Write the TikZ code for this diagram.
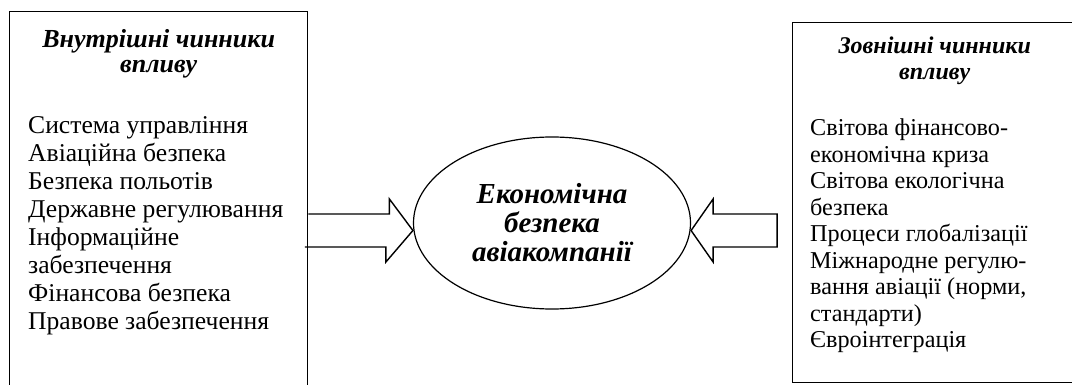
\documentclass[tikz,border=0pt]{standalone}
\usepackage{fontspec}
\setmainfont{Liberation Serif}
\usetikzlibrary{positioning,shapes.geometric,calc}

\tikzset{
  factorbox/.style={draw, line width=1.4pt, anchor=north west, inner sep=0pt},
  boxtitle/.style={inner sep=0pt, anchor=north, align=center},
  factorlist/.style={inner sep=0pt, anchor=north west, align=left},
  goal/.style={ellipse, draw, line width=1.2pt, minimum width=277pt,
    minimum height=172pt, align=center,
    font=\fontsize{29}{29}\selectfont\bfseries\itshape},
  blockarrow/.style={draw, line width=1.4pt, line join=miter}
}

\begin{document}
\begin{tikzpicture}[x=1pt,y=-1pt]
  \useasboundingbox (0,0) rectangle (1072,385);

  % boxes
  \node[factorbox, minimum width=298pt, minimum height=430pt] (inner) at (9,11) {};
  \node[factorbox, minimum width=284pt, minimum height=360pt] (outer) at (792,22) {};

  \node[boxtitle, below=18pt of inner.north,
    font=\fontsize{26}{25.5}\selectfont\bfseries\itshape] (innertitle)
    {Внутрішні чинники\\впливу};
  \node[factorlist, below right=105pt and 19pt of inner.north west,
    font=\fontsize{25.6}{28}\selectfont] (innerlist)
    {Система управління\\Авіаційна безпека\\Безпека польотів\\
     Державне регулювання\\Інформаційне\\забезпечення\\
     Фінансова безпека\\Правове забезпечення};

  \node[boxtitle, below=15pt of outer.north,
    font=\fontsize{24}{25.5}\selectfont\bfseries\itshape] (outertitle)
    {Зовнішні чинники\\впливу};
  \node[factorlist, below right=97pt and 18pt of outer.north west,
    font=\fontsize{24.2}{26.5}\selectfont] (outerlist)
    {Світова фінансово-\\економічна криза\\Світова екологічна\\безпека\\
     Процеси глобалізації\\Міжнародне регулю-\\вання авіації (норми,\\
     стандарти)\\Євроінтеграція};

  % centre
  \node[goal] (goal) at (552,223) {Економічна\\безпека\\авіакомпанії};
  \coordinate (axis) at (552,230.5);

  % arrows
  \draw[blockarrow] ($(inner.east|-axis)+(0,-16.5)$) -- ++(81,0) -- ++(0,-15)
    -- (goal.west|-axis) -- ++(-27,31.5) -- ++(0,-15) -- ++(-81,0);
  \draw[blockarrow] (goal.east|-axis) -- ++(22,-31.5) -- ++(0,15) -- ++(64,0)
    -- ++(0,33) -- ++(-64,0) -- ++(0,15) -- cycle;
\end{tikzpicture}
\end{document}
